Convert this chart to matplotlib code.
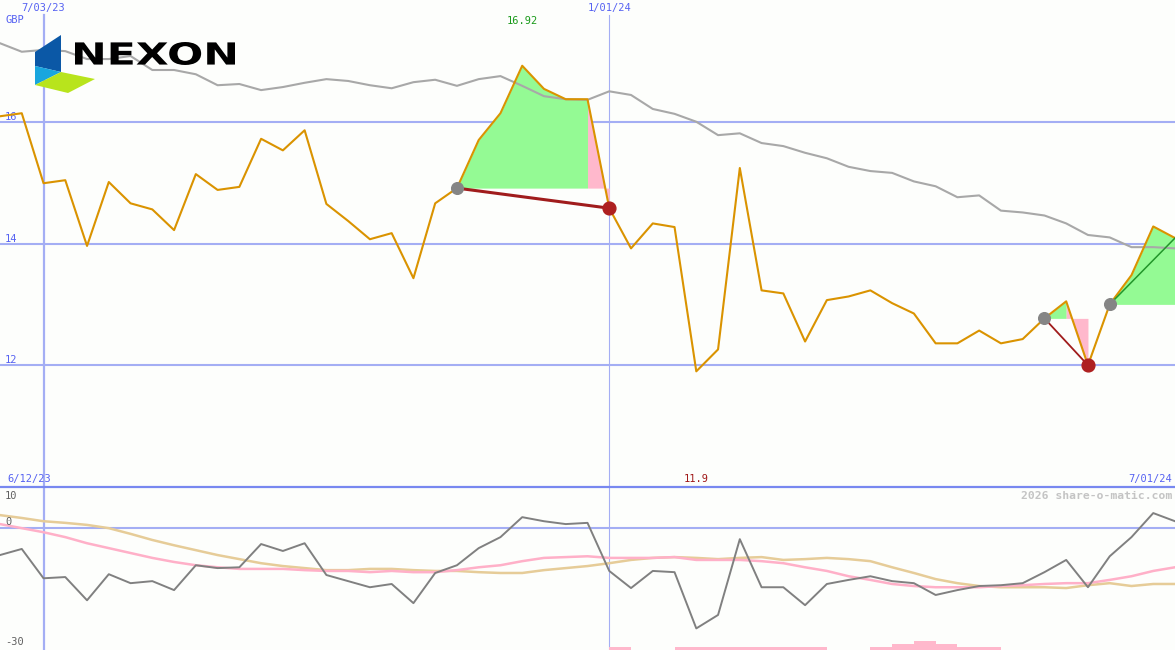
import matplotlib

matplotlib.use("Agg")

import matplotlib.pyplot as plt
import pandas as pd
from matplotlib.font_manager import FontProperties
from matplotlib.patches import PathPatch, Polygon
from matplotlib.textpath import TextPath
from matplotlib.transforms import Affine2D

# weekly closes, GBP (orange) and the grey comparison line
price = [16.09, 16.14, 14.99, 15.04, 13.96, 15.01, 14.66, 14.56, 14.22, 15.14,
         14.88, 14.93, 15.72, 15.53, 15.86, 14.65, 14.37, 14.07, 14.17, 13.43,
         14.66, 14.91, 15.70, 16.14, 16.92, 16.54, 16.37, 16.37, 14.58, 13.92,
         14.33, 14.27, 11.90, 12.26, 15.24, 13.23, 13.18, 12.39, 13.07, 13.13,
         13.23, 13.02, 12.85, 12.36, 12.36, 12.57, 12.36, 12.43, 12.77, 13.05,
         12.00, 13.00, 13.48, 14.28, 14.09]
relative = [17.29, 17.15, 17.18, 17.16, 17.03, 17.03, 17.08, 16.85, 16.85, 16.78,
            16.60, 16.62, 16.52, 16.57, 16.64, 16.70, 16.67, 16.60, 16.55, 16.65,
            16.69, 16.59, 16.70, 16.75, 16.59, 16.42, 16.37, 16.36, 16.50, 16.44,
            16.21, 16.13, 16.00, 15.78, 15.81, 15.65, 15.60, 15.49, 15.40, 15.26,
            15.19, 15.16, 15.02, 14.94, 14.76, 14.79, 14.54, 14.51, 14.46, 14.33,
            14.14, 14.10, 13.94, 13.94, 13.92]

# lower panel
momentum = [-6.7, -5.2, -12.4, -12.1, -17.8, -11.4, -13.6, -13.1, -15.3, -9.2,
            -9.9, -9.7, -4.0, -5.7, -3.8, -11.6, -13.1, -14.6, -13.8, -18.5,
            -11.1, -9.2, -5.0, -2.3, 2.6, 1.6, 0.9, 1.2, -10.6, -14.8,
            -10.6, -10.9, -24.7, -21.4, -2.8, -14.6, -14.6, -19.0, -13.8, -12.8,
            -11.9, -13.1, -13.6, -16.5, -15.3, -14.3, -14.1, -13.6, -10.9, -7.9,
            -14.6, -7.0, -2.3, 3.6, 1.6]
ma_fast = [0.9, -0.1, -1.1, -2.3, -3.8, -5.0, -6.2, -7.4, -8.4, -9.2,
           -9.7, -10.1, -10.1, -10.1, -10.4, -10.6, -10.6, -10.9, -10.6, -10.9,
           -10.9, -10.4, -9.7, -9.2, -8.2, -7.4, -7.2, -7.0, -7.4, -7.4,
           -7.4, -7.2, -7.9, -7.9, -7.9, -8.2, -8.7, -9.7, -10.6, -11.9,
           -12.8, -13.8, -14.3, -14.6, -14.6, -14.6, -14.3, -14.1, -13.8, -13.6,
           -13.6, -12.8, -11.9, -10.6, -9.7]
ma_slow = [3.1, 2.4, 1.6, 1.2, 0.7, -0.1, -1.5, -3.0, -4.3, -5.5,
           -6.7, -7.7, -8.7, -9.4, -9.9, -10.4, -10.4, -10.1, -10.1, -10.4,
           -10.6, -10.6, -10.9, -11.1, -11.1, -10.4, -9.9, -9.4, -8.7, -7.9,
           -7.4, -7.2, -7.4, -7.7, -7.4, -7.2, -7.9, -7.7, -7.4, -7.7,
           -8.2, -9.7, -11.1, -12.6, -13.6, -14.3, -14.6, -14.6, -14.6, -14.8,
           -14.1, -13.6, -14.3, -13.8, -13.8]
bar_weeks = [28, 31, 32, 33, 34, 35, 36, 37, 40, 41, 42, 43, 44, 45]
bar_heights = [0.75, 0.75, 0.75, 0.75, 0.75, 0.75, 0.75, 0.75, 0.75, 1.5, 2.2, 1.5, 0.75, 0.75]

# swing signals: (start week, end week, closed?)
signals = [(21, 28, True), (48, 50, True), (51, 54, False)]

dates = pd.date_range("2023-06-19", "2024-07-01", freq="7D")
marker_dates = ["2023-07-03", "2024-01-01"]
price_ticks = [16, 14, 12]

W, H, SPLIT = 1175, 650, 487
BG = "#fdfefc"
GRID = "#a4aef4"
BLUE_TXT = "#5662f2"
MONO = "DejaVu Sans Mono"


def _fy(p):
    """pixel row -> fraction of the main axes"""
    return 1 - p / SPLIT


def _fy2(p):
    return 1 - (p - SPLIT) / (H - SPLIT)


def _draw_logo(ov):
    ov.add_patch(Polygon([(35, 52), (61, 35), (61, 72), (35, 66)], closed=True, fc="#0b58a6", lw=0))
    ov.add_patch(Polygon([(35, 66), (61, 72), (35, 85)], closed=True, fc="#18a6de", lw=0))
    ov.add_patch(Polygon([(35, 85), (61, 72), (95, 79), (68, 93)], closed=True, fc="#b8e41c", lw=0))
    tp = TextPath((0, 0), "NEXON", size=10, prop=FontProperties(family="DejaVu Sans", weight="bold"))
    ext = tp.get_extents()
    tr = (Affine2D().translate(-ext.x0, -ext.y0)
          .scale((235 - 75) / ext.width, -(65 - 42) / ext.height)
          .translate(75, 65))
    ov.add_patch(PathPatch(tr.transform_path(tp), fc="black", lw=0))


def main() -> int:
    fig = plt.figure(figsize=(W / 100, H / 100), dpi=100)
    fig.patch.set_facecolor(BG)
    lower = (H - SPLIT) / H
    ax = fig.add_axes([0, lower, 1, 1 - lower])
    ax2 = fig.add_axes([0, 0, 1, lower])
    for a in (ax, ax2):
        a.set_facecolor(BG)
        a.set_xlim(dates[0], dates[-1])
        for s in a.spines.values():
            s.set_visible(False)
        a.set_xticks([])
        a.set_yticks([])
    ax.set_ylim(10, 18)
    ax2.set_ylim(-30, 10)

    # grid
    for v in price_ticks:
        ax.axhline(v, color=GRID, lw=1.5, zorder=0)
        ax.text(5 / W, v, str(v), transform=ax.get_yaxis_transform(), ha="left", va="bottom",
                fontsize=7.5, family=MONO, color=BLUE_TXT)
    for i, d in enumerate(marker_dates):
        lw = 1.6 if i == 0 else 0.8
        ax.axvline(pd.Timestamp(d), ymax=_fy(15), color=GRID, lw=lw, zorder=0)
        ax2.axvline(pd.Timestamp(d), color=GRID, lw=lw, zorder=0)
    ax2.axhline(0, color=GRID, lw=1.5, zorder=0)
    ax2.axhline(10, color="#7888f0", lw=1.6, zorder=3, clip_on=False)

    # swing signals
    for n, (s, e, closed) in enumerate(signals):
        base = price[s]
        g_end = e - 1 if closed else e
        ax.fill_between(dates[s:g_end + 1], price[s:g_end + 1], base, color="#94fa94", lw=0,
                        interpolate=True, zorder=1)
        if closed:
            ax.fill_between(dates[g_end:e + 1], price[g_end:e + 1], base, color="#ffb8cc", lw=0,
                            interpolate=True, zorder=1)
            ax.plot([dates[s], dates[e]], [price[s], price[e]], color="#a01c1c",
                    lw=2.2 if n == 0 else 1.3, zorder=3)
            ax.plot(dates[e], price[e], "o", ms=9.2, color="#ae2020", zorder=6)
        else:
            ax.plot([dates[s], dates[e]], [price[s], price[e]], color="#22962a", lw=1.1, zorder=5)
        ax.plot(dates[s], price[s], "o", ms=8.4, color="#858585", zorder=6)

    ax.plot(dates, relative, color="#a8a8a8", lw=1.5, zorder=2)
    ax.plot(dates, price, color="#da9300", lw=1.5, zorder=4)

    # extremes
    hi = max(range(len(price)), key=lambda k: price[k])
    lo = min(range(len(price)), key=lambda k: price[k])
    ax.text(dates[hi], _fy(21), f"{price[hi]:.2f}", transform=ax.get_xaxis_transform(),
            ha="center", va="center", fontsize=7.5, family=MONO, color="#1a9a1a")
    ax.text(dates[lo], _fy(479), f"{price[lo]:g}", transform=ax.get_xaxis_transform(),
            ha="center", va="center", fontsize=7.5, family=MONO, color="#a01818")

    # date labels
    for d, lbl in zip(marker_dates, ["7/03/23", "1/01/24"]):
        ax.text(pd.Timestamp(d), _fy(8), lbl, transform=ax.get_xaxis_transform(), ha="center",
                va="center", fontsize=7.5, family=MONO, color=BLUE_TXT)
    ax.text(5 / W, _fy(20), "GBP", transform=ax.transAxes, ha="left", va="center",
            fontsize=7.5, family=MONO, color=BLUE_TXT)
    ax.text(7 / W, _fy(479), "6/12/23", transform=ax.transAxes, ha="left", va="center",
            fontsize=7.5, family=MONO, color=BLUE_TXT)
    ax.text(1172 / W, _fy(479), "7/01/24", transform=ax.transAxes, ha="right", va="center",
            fontsize=7.5, family=MONO, color=BLUE_TXT)

    # lower panel
    ax2.bar(dates[bar_weeks], bar_heights, width=7, align="edge", bottom=-30, color="#ffb8cc",
            lw=0, zorder=1)
    ax2.plot(dates, ma_slow, color="#e6cc98", lw=1.8, zorder=2)
    ax2.plot(dates, ma_fast, color="#ffb0c8", lw=1.8, zorder=2)
    ax2.plot(dates, momentum, color="#808080", lw=1.4, zorder=3)
    for lbl, p in [("10", 496), ("0", 522), ("-30", 642)]:
        ax2.text(5 / W, _fy2(p), lbl, transform=ax2.transAxes, ha="left", va="center",
                 fontsize=7.5, family=MONO, color="#606060")
    ax2.text(1172 / W, _fy2(496), "2026 share-o-matic.com", transform=ax2.transAxes,
             ha="right", va="center", fontsize=8.2, family=MONO, weight="bold", color="#c4c4c4")

    # logo overlay in pixel space
    ov = fig.add_axes([0, 0, 1, 1], zorder=5)
    ov.set_xlim(0, W)
    ov.set_ylim(H, 0)
    ov.axis("off")
    ov.patch.set_alpha(0)
    _draw_logo(ov)

    fig.savefig("out.png", dpi=100, facecolor=BG)
    return 0


if __name__ == "__main__":
    raise SystemExit(main())
